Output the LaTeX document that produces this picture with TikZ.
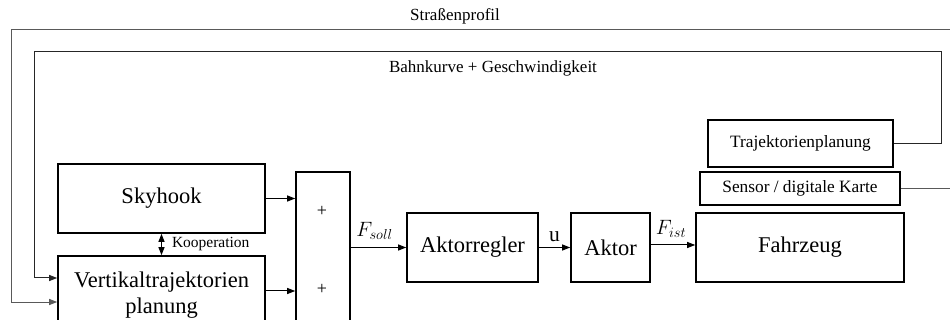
\documentclass[tikz,border=0pt]{standalone}
\usepackage{fontspec}
\setmainfont{Liberation Serif}
\usetikzlibrary{arrows.meta,calc}
\begin{document}
\begin{tikzpicture}[x=1pt,y=-1pt,
  blk/.style={draw,line width=1.6pt,inner sep=0pt,align=center,font=\fontsize{22.5}{25.5}\selectfont},
  sblk/.style={blk,font=\fontsize{17.3}{20}\selectfont},
  tip/.tip={Triangle[length=8pt,width=6pt]},
  conn/.style={line width=1pt,-tip},
  fb/.style={line width=1pt,-tip},
  lbl/.style={inner sep=0pt,font=\fontsize{17}{20}\selectfont},
  mlbl/.style={inner sep=0pt,font=\fontsize{21.5}{24}\selectfont}]
\useasboundingbox (0,0) rectangle (950,320);
\clip (0,0) rectangle (950,320);
% blocks
\node[blk,minimum width=207pt,minimum height=69pt] (sky) at (161.5,198.5) {Skyhook};
\node[blk,minimum width=207pt,minimum height=78pt] (vert) at (161.5,295) {Vertikaltrajektorien\\planung};
\node[blk,minimum width=54pt,minimum height=156pt] (sum) at (323,250) {};
\node[lbl,font=\fontsize{18}{20}\selectfont] (p1) at (322,211) {+};
\node[lbl,font=\fontsize{18}{20}\selectfont] (p2) at (322,289) {+};
\node[blk,minimum width=131pt,minimum height=69pt] (ar) at (472.5,247.5) {Aktorregler};
\node[blk,minimum width=79pt,minimum height=69pt] (ak) at (610.5,247.5) {Aktor};
\node[blk,minimum width=208pt,minimum height=69pt] (fz) at (800,247.5) {Fahrzeug};
\node[sblk,minimum width=200pt,minimum height=33pt] (sens) at (800,188.5) {Sensor / digitale Karte};
\node[sblk,minimum width=185pt,minimum height=47pt] (traj) at (800.5,143.5) {Trajektorienplanung};
% labels of feedback paths
\node[lbl] (sp) at (455,16) {Straßenprofil};
\node[lbl] (bg) at (493,68) {Bahnkurve + Geschwindigkeit};
% forward connectors
\draw[conn] (sky.east) -- (sky.east -| sum.west);
\draw[conn] ([yshift=4pt]vert.east) -- ([yshift=4pt]vert.east -| sum.west);
\draw[conn] (sum.east |- ar.west) -- node[mlbl,above=7pt,xshift=-4pt] {$F_{soll}$} (ar.west);
\draw[conn] (ar.east) -- node[mlbl,above=5pt] {u} (ak.west);
\draw[conn] ([yshift=2.5pt]ak.east) -- node[mlbl,above=7pt,xshift=-2pt] {$F_{ist}$} ([yshift=2.5pt]fz.west);
\draw[line width=1pt,tip-tip] (sky.south) -- node[right=10pt,inner sep=0pt,font=\fontsize{15.5}{18}\selectfont] {Kooperation} (vert.north);
% feedback
\draw[fb,draw=black!85] (traj.east) -- (941,143.5) -- (941,52) -- (34,52) |- ([yshift=17pt]vert.west);
\draw[fb,draw=black!65] (sens.east) -- (962,188.5) -- (962,30) -- (11,30) |- ([yshift=-7pt]vert.west);
\end{tikzpicture}
\end{document}
